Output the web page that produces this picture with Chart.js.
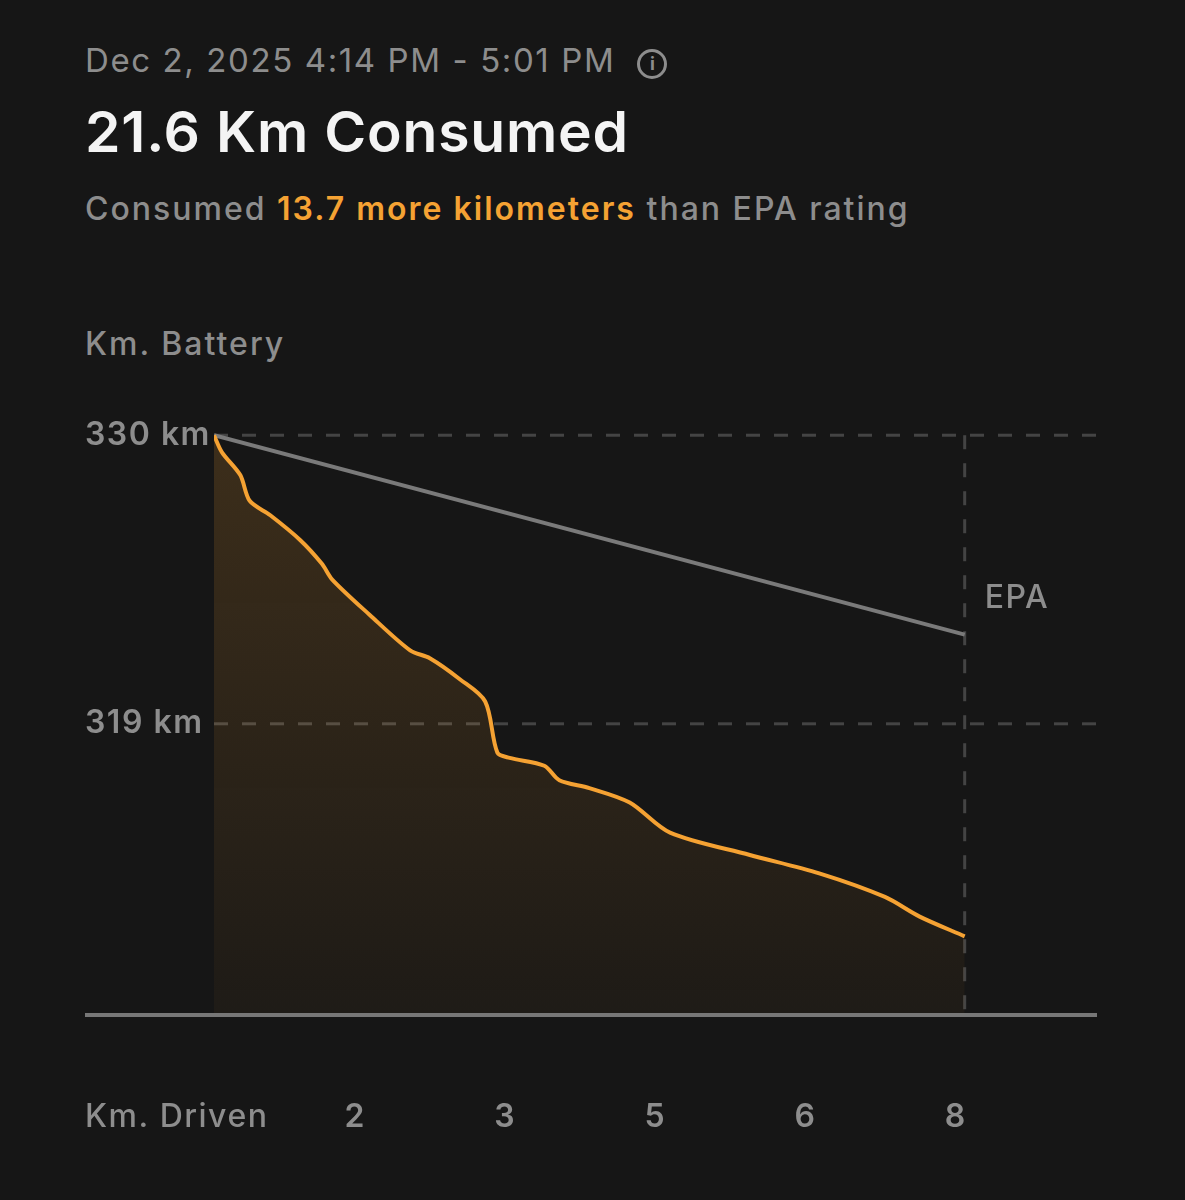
<!DOCTYPE html>
<html>
<head>
<meta charset="utf-8">
<script src="https://cdn.jsdelivr.net/npm/chart.js@4"></script>
<style>
  body { margin: 0; background: #161616; font-family: Inter, "Noto Sans", sans-serif; }
  .wrap { position: relative; width: 1185px; height: 1200px; }
  .t { position: absolute; left: 85px; white-space: nowrap; }
  #date { top: 40px; font-size: 33px; letter-spacing: 1.6px; color: #8d8d8d; }
  #date .i { display: inline-block; width: 24px; height: 24px; border: 3px solid #8d8d8d; border-radius: 50%;
    font-size: 18px; line-height: 24px; text-align: center; font-weight: 700; margin-left: 22px; vertical-align: 2px; letter-spacing: 0; }
  #title { top: 97px; font-size: 57px; letter-spacing: 0.8px; font-weight: 600; color: #f4f4f4; }
  #sub { top: 189px; font-size: 32px; letter-spacing: 2px; color: #8d8d8d; font-weight: 500; }
  #sub b { color: #f5a233; font-weight: 600; }
  #ylab { top: 324px; font-size: 32px; letter-spacing: 2px; color: #8d8d8d; font-weight: 500; }
  canvas { position: absolute; left: 85px; top: 380px; }
</style>
</head>
<body>
<div class="wrap">
  <div class="t" id="date">Dec 2, 2025 4:14 PM - 5:01 PM<span class="i">i</span></div>
  <div class="t" id="title">21.6 Km Consumed</div>
  <div class="t" id="sub">Consumed <b>13.7 more kilometers</b> than EPA rating</div>
  <div class="t" id="ylab">Km. Battery</div>
  <canvas id="c" width="1012" height="780"></canvas>
</div>
<script>
// distance driven (km) vs remaining range (km)
const driven = [0, 0.085, 0.28, 0.38, 0.6, 0.92, 1.15, 1.26, 1.66, 2.09, 2.3, 2.62, 2.89, 3.02, 3.15, 3.52, 3.68, 4.0, 4.43, 4.86, 5.71, 6.45, 7.15, 7.52, 8.0];
const range = [330, 329.35, 328.48, 327.5, 326.95, 326.0, 325.1, 324.5, 323.15, 321.8, 321.5, 320.7, 319.85, 317.9, 317.7, 317.4, 316.85, 316.55, 316.0, 314.85, 314.0, 313.3, 312.4, 311.65, 310.9];
const epaDriven = [0, 8];
const epaRange = [330, 322.4];
const yTicks = [330, 319];
const xTickPos = [1.6, 3.2, 4.8, 6.4, 8];
const xTickLabels = ['2', '3', '5', '6', '8'];

const gray = '#8d8d8d';
const orange = '#f5a233';

const overlay = {
  id: 'overlay',
  beforeDatasetsDraw(chart) {
    const { ctx, chartArea: a, scales: { x, y } } = chart;
    ctx.save();
    ctx.strokeStyle = '#444';
    ctx.lineWidth = 3;
    ctx.setLineDash([14, 14]);
    yTicks.forEach(v => {
      const py = y.getPixelForValue(v);
      ctx.beginPath(); ctx.moveTo(a.left, py); ctx.lineTo(a.right, py); ctx.stroke();
    });
    const vx = x.getPixelForValue(8);
    ctx.beginPath(); ctx.moveTo(vx, y.getPixelForValue(330)); ctx.lineTo(vx, a.bottom); ctx.stroke();
    ctx.restore();
  },
  afterDatasetsDraw(chart) {
    const { ctx, chartArea: a, scales: { x, y } } = chart;
    ctx.save();
    ctx.strokeStyle = '#777';
    ctx.lineWidth = 4;
    ctx.beginPath(); ctx.moveTo(0, a.bottom); ctx.lineTo(a.right, a.bottom); ctx.stroke();
    ctx.fillStyle = gray;
    ctx.letterSpacing = '1.5px';
    ctx.font = '600 32px Inter, "Noto Sans", sans-serif';
    ctx.textBaseline = 'middle';
    ctx.textAlign = 'left';
    yTicks.forEach(v => ctx.fillText(v + ' km', 0, y.getPixelForValue(v)));
    ctx.font = '500 32px Inter, "Noto Sans", sans-serif';
    ctx.fillText('EPA', x.getPixelForValue(8) + 20, y.getPixelForValue(323.8));
    const ly = a.bottom + 102;
    ctx.fillText('Km. Driven', 0, ly);
    ctx.font = '600 32px Inter, "Noto Sans", sans-serif';
    ctx.textAlign = 'center';
    xTickPos.forEach((v, i) => ctx.fillText(xTickLabels[i], x.getPixelForValue(v) - 9, ly));
    ctx.restore();
  }
};

const ctx = document.getElementById('c').getContext('2d');
new Chart(ctx, {
  type: 'line',
  data: {
    datasets: [{
      data: driven.map((d, i) => ({ x: d, y: range[i] })),
      borderColor: orange,
      borderWidth: 4,
      pointRadius: 0,
      tension: 0.3,
      fill: 'start',
      backgroundColor: c => {
        const a = c.chart.chartArea;
        if (!a) return 'rgba(245,162,51,0.15)';
        const g = c.chart.ctx.createLinearGradient(0, a.top, 0, a.bottom);
        g.addColorStop(0, 'rgba(245,162,51,0.18)');
        g.addColorStop(1, 'rgba(245,162,51,0.04)');
        return g;
      }
    }, {
      data: epaDriven.map((d, i) => ({ x: d, y: epaRange[i] })),
      borderColor: '#7a7a7a',
      borderWidth: 4,
      pointRadius: 0,
      fill: false
    }]
  },
  options: {
    responsive: false,
    animation: false,
    layout: { padding: { left: 129, top: 29, bottom: 145, right: 0 } },
    plugins: { legend: { display: false }, tooltip: { enabled: false } },
    scales: {
      x: { type: 'linear', min: 0, max: 9.41, display: false },
      y: { min: 307.9, max: 331, display: false }
    }
  },
  plugins: [overlay]
});
</script>
</body>
</html>
